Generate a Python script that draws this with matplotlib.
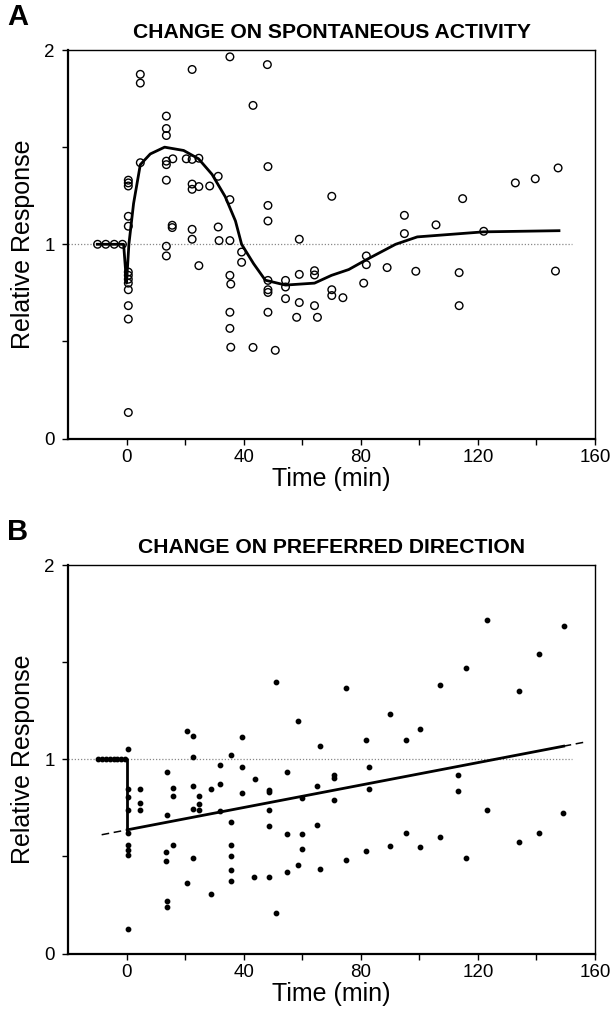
import matplotlib
matplotlib.use("Agg")
import matplotlib.pyplot as plt
import numpy as np

plt.rcParams['font.family'] = ['Liberation Sans', 'DejaVu Sans']

# ---- panel A: spontaneous activity (open circles) ----
a_pre_x = [-9.9, -7.1, -4.2, -1.4]
a_pre_y = [1.0, 1.0, 1.0, 1.0]

a_x = [0.6, 0.6, 0.6, 0.6, 0.6, 0.6, 0.6, 0.6, 0.6, 0.6, 0.6, 0.6, 0.6,
       4.7, 4.7, 4.7,
       13.6, 13.6, 13.6, 13.6, 13.6, 13.6, 13.6, 13.6,
       15.8, 15.6, 15.6,
       20.4, 22.4, 24.7, 22.4,
       22.4, 22.4, 24.7, 22.4, 22.4, 24.7,
       28.4, 31.3, 31.3, 31.6,
       35.3, 35.3, 35.3, 35.3, 35.6, 35.3, 35.3, 35.6,
       39.3, 39.3, 43.2, 43.2,
       48.1, 48.3, 48.3, 48.3, 48.3, 48.3, 48.3, 48.3,
       50.8, 54.3, 54.3, 54.3,
       59.0, 59.0, 59.0, 58.1,
       64.2, 64.2, 64.2, 65.2,
       70.1, 70.1, 70.1, 73.9,
       81.9, 81.9, 81.0, 89.0,
       94.9, 94.9, 98.8, 105.7,
       113.6, 113.6, 114.8, 122.0,
       132.8, 139.6, 146.5, 147.4]
a_y = [1.33, 1.316, 1.30, 1.144, 1.093, 0.857, 0.84, 0.82, 0.80, 0.766, 0.684, 0.615, 0.134,
       1.875, 1.83, 1.42,
       1.66, 1.596, 1.56, 1.428, 1.41, 1.33, 0.99, 0.94,
       1.44, 1.098, 1.086,
       1.44, 1.437, 1.443, 1.90,
       1.31, 1.283, 1.297, 1.077, 1.026, 0.89,
       1.30, 1.35, 1.089, 1.019,
       1.965, 1.23, 1.019, 0.84, 0.795, 0.65, 0.567, 0.47,
       0.96, 0.907, 1.715, 0.469,
       1.925, 1.40, 1.20, 1.12, 0.814, 0.766, 0.752, 0.65,
       0.454, 0.814, 0.78, 0.72,
       1.026, 0.845, 0.70, 0.624,
       0.864, 0.842, 0.684, 0.624,
       1.247, 0.766, 0.736, 0.725,
       0.94, 0.895, 0.80, 0.88,
       1.149, 1.055, 0.861, 1.10,
       0.854, 0.684, 1.235, 1.067,
       1.316, 1.337, 0.862, 1.393]

# mean curve
a_line_x = [-10, -1, 0, 0.8, 2.4, 4.7, 8.1, 13, 19.5, 24.6, 29.2, 33.7, 37.2, 39.3,
            43.4, 47.4, 54.3, 64.2, 70, 75.9, 81.6, 91.9, 99.3, 122, 147.7]
a_line_y = [1.0, 1.0, 0.80, 1.0, 1.21, 1.41, 1.465, 1.50, 1.483, 1.44, 1.36, 1.245, 1.12, 1.0,
            0.90, 0.815, 0.79, 0.80, 0.84, 0.87, 0.918, 1.0, 1.038, 1.064, 1.07]

# ---- panel B: preferred direction (filled dots) ----
b_pre_x = [-9.6, -8.3, -7.0, -5.7, -4.4, -3.1, -1.8, -0.5]
b_pre_y = [1.0] * 8

b_x = [0.5, 0.5, 0.5, 0.5, 0.5, 0.5, 0.5, 0.5, 0.5,
       4.5, 4.5, 4.5,
       13.7, 13.7, 13.6, 13.6, 13.7, 13.7,
       15.7, 15.7, 15.7, 20.6, 20.6,
       22.6, 22.6, 22.6, 22.6, 22.6,
       24.6, 24.6, 24.6, 28.9, 28.9,
       31.8, 31.8, 31.8,
       35.6, 35.6, 35.6, 35.6, 35.6, 35.6,
       39.5, 39.5, 39.5, 43.8, 43.7,
       48.7, 48.7, 48.7, 48.7, 48.7,
       50.9, 50.9, 54.9, 54.9, 54.9,
       58.7, 58.7, 59.8, 59.8, 59.8,
       64.9, 64.9, 66.0, 66.0,
       70.7, 70.7, 70.7, 74.8, 74.9,
       81.9, 81.9, 82.9, 82.8, 90.0, 90.0,
       95.5, 95.5, 100.2, 100.1, 106.9, 107.0,
       113.2, 113.2, 115.8, 116.0, 123.1, 123.0,
       134.1, 134.1, 141.0, 141.0, 149.3, 149.2]
b_y = [1.055, 0.846, 0.807, 0.738, 0.622, 0.56, 0.533, 0.508, 0.125,
       0.846, 0.776, 0.737,
       0.932, 0.711, 0.522, 0.476, 0.269, 0.238,
       0.85, 0.812, 0.558, 1.145, 0.362,
       1.118, 1.012, 0.86, 0.744, 0.493,
       0.812, 0.77, 0.741, 0.846, 0.308,
       0.969, 0.874, 0.733,
       1.02, 0.677, 0.56, 0.504, 0.428, 0.372,
       1.117, 0.96, 0.825, 0.90, 0.393,
       0.841, 0.829, 0.74, 0.654, 0.395,
       1.40, 0.209, 0.936, 0.617, 0.42,
       1.195, 0.458, 0.80, 0.617, 0.538,
       0.86, 0.664, 0.436, 1.068,
       0.917, 0.905, 0.792, 1.368, 0.482,
       1.099, 0.528, 0.962, 0.846, 1.234, 0.554,
       1.10, 0.622, 1.155, 0.549, 1.383, 0.60,
       0.918, 0.839, 1.468, 0.49, 1.718, 0.738,
       1.35, 0.574, 1.542, 0.619, 1.686, 0.725]

# linear fit after drug
fit_intercept = 0.636
fit_slope = 0.00289
fit_solid = [0.3, 149.3]
fit_dash_left = [-8.5, 0.3]
fit_dash_right = [149.3, 157]

ref_x = [-20, 152]
ref_y = [1, 1]

x_ticks = list(range(0, 161, 20))
x_labels = [str(t) if t % 40 == 0 else '' for t in x_ticks]
y_ticks = [0, 0.5, 1, 1.5, 2]
y_labels = ['0', '', '1', '', '2']


def style(ax, title, letter):
    ax.set_xlim(-20, 160)
    ax.set_ylim(0, 2)
    ax.set_xticks(x_ticks)
    ax.set_xticklabels(x_labels)
    ax.set_yticks(y_ticks)
    ax.set_yticklabels(y_labels)
    ax.tick_params(direction='out', length=4.5, width=1.0, labelsize=13.5, pad=3)
    ax.tick_params(axis='y', pad=5)
    for s in ['left', 'bottom']:
        ax.spines[s].set_linewidth(1.6)
    for s in ['top', 'right']:
        ax.spines[s].set_linewidth(1.0)
    ax.set_xlabel('Time (min)', fontsize=18, labelpad=1)
    ax.set_ylabel('Relative Response', fontsize=18, labelpad=7)
    ax.set_title(title, fontsize=15.2, fontweight='bold', pad=9)
    ax.plot(ref_x, ref_y, color='#888888', lw=0.9, ls=(0, (1, 1.5)), zorder=1)
    ax.text(-0.095, 1.085, letter, transform=ax.transAxes, fontsize=21,
            fontweight='bold', ha='center', va='center')


fig = plt.figure(figsize=(6.12, 10.09), dpi=100)
axA = fig.add_axes([0.1111, 0.5654, 0.8611, 0.385])
axB = fig.add_axes([0.1111, 0.055, 0.8611, 0.385])

style(axA, 'CHANGE ON SPONTANEOUS ACTIVITY', 'A')
axA.plot(a_line_x, a_line_y, color='black', lw=2.0, zorder=3)
axA.scatter(a_pre_x + a_x, a_pre_y + a_y, s=30, facecolors='none',
            edgecolors='black', linewidths=1.0, zorder=4)

style(axB, 'CHANGE ON PREFERRED DIRECTION', 'B')
b_step_x = [b_pre_x[0], 0.3, 0.3]
b_step_y = [1.0, 1.0, fit_intercept + fit_slope * 0.3]
axB.plot(b_step_x, b_step_y, color='black', lw=2.0, zorder=3)
axB.plot(fit_solid, [fit_intercept + fit_slope * v for v in fit_solid],
         color='black', lw=2.0, zorder=3)
for seg in (fit_dash_left, fit_dash_right):
    axB.plot(seg, [fit_intercept + fit_slope * v for v in seg],
             color='black', lw=1.1, ls=(0, (5, 3)), zorder=3)
axB.scatter(b_pre_x + b_x, b_pre_y + b_y, s=10, color='black', zorder=4)

fig.savefig('out.png', dpi=100)
